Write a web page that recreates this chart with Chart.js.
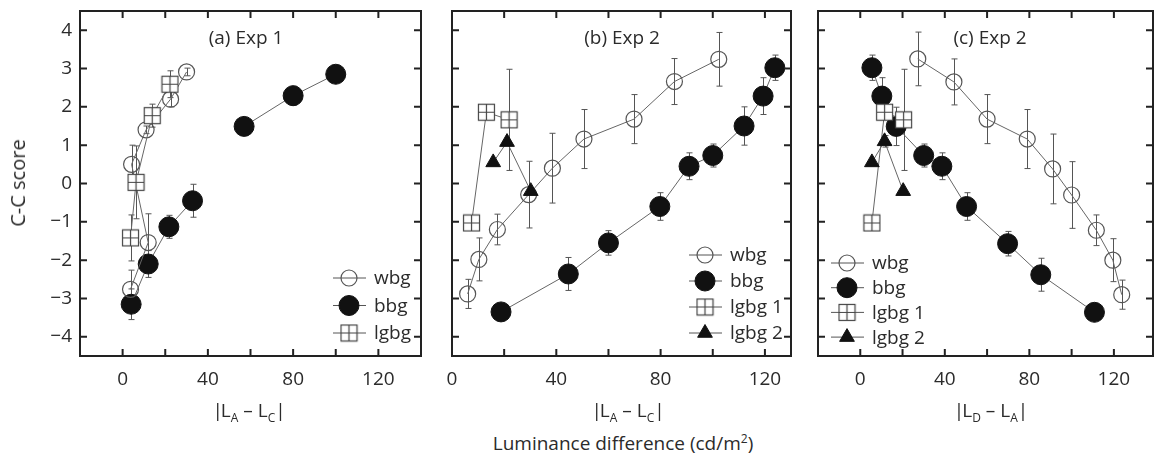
<!DOCTYPE html>
<html>
<head>
<meta charset="utf-8">
<script src="https://cdn.jsdelivr.net/npm/chart.js@4.4.0/dist/chart.umd.min.js"></script>
<style>
  html, body { margin: 0; padding: 0; background: #fff; overflow: hidden; width: 1161px; height: 455px; }
  body { position: relative; font-family: 'Open Sans', sans-serif; color: #2b2b2b; }
  .panel { position: absolute; top: 0; height: 400px; }
  .lbl { position: absolute; white-space: nowrap; transform: translate(-50%, -50%); font-size: 19px; line-height: 1; }
  .lbl sub { font-size: 12px; vertical-align: -5px; line-height: 0; }
  .lbl sup { font-size: 12px; vertical-align: 7px; line-height: 0; }
  .rot { transform: translate(-50%, -50%) rotate(-90deg); font-size: 20px; }
  .bar { letter-spacing: -2px; }
</style>
</head>
<body>
<div class="panel" style="left:0;width:432px"><canvas id="panelA" width="432" height="400"></canvas></div>
<div class="panel" style="left:440px;width:362px"><canvas id="panelB" width="362" height="400"></canvas></div>
<div class="panel" style="left:806px;width:358px"><canvas id="panelC" width="358" height="400"></canvas></div>

<div class="lbl" style="left:246px;top:37px">(a) Exp 1</div>
<div class="lbl" style="left:622px;top:37px">(b) Exp 2</div>
<div class="lbl" style="left:990px;top:37px">(c) Exp 2</div>
<div class="lbl rot" style="left:18px;top:183px">C-C score</div>
<div class="lbl" style="left:248px;top:410px"><span class="bar">|</span>L<sub>A</sub> – L<sub>C</sub><span class="bar">|</span></div>
<div class="lbl" style="left:627px;top:410px"><span class="bar">|</span>L<sub>A</sub> – L<sub>C</sub><span class="bar">|</span></div>
<div class="lbl" style="left:990px;top:410px"><span class="bar">|</span>L<sub>D</sub> – L<sub>A</sub><span class="bar">|</span></div>
<div class="lbl" style="left:623px;top:443px">Luminance difference (cd/m<sup>2</sup>)</div>

<script>
// tick values
const xTicks = [-20, 0, 20, 40, 60, 80, 100, 120, 140];
const xLabelTicks = [0, 40, 80, 120];
const yTicks = [-4, -3, -2, -1, 0, 1, 2, 3, 4];

// (a) Exp 1
const aWbgX = [3.7, 12, 4.2, 11, 22.5, 30];
const aWbgY = [-2.76, -1.54, 0.5, 1.4, 2.2, 2.91];
const aWbgErr = [0.5, 0.75, 0.5, 0.1, 0.2, 0.1];
const aBbgX = [4, 12, 21.7, 32.8, 45, 57, 80, 100];
const aBbgY = [-3.15, -2.1, -1.13, -0.45, null, 1.49, 2.29, 2.85];
const aBbgErr = [0.4, 0.35, 0.3, 0.43, 0, 0, 0.25, 0];
const aLgX = [3.7, 6.3, 13.9, 22.2];
const aLgY = [-1.42, 0.03, 1.77, 2.59];
const aLgErr = [0.6, 0.95, 0.3, 0.35];

// (b) Exp 2
const bWbgX = [6, 10.3, 17.4, 29.4, 38.5, 50.6, 69.8, 85.3, 102.3];
const bWbgY = [-2.88, -1.98, -1.2, -0.29, 0.4, 1.16, 1.68, 2.66, 3.24];
const bWbgErr = [0.38, 0.56, 0.4, 0.87, 0.91, 0.77, 0.64, 0.6, 0.7];
const bBbgX = [18.8, 44.6, 60, 79.7, 90.9, 100, 112, 119.3, 123.8];
const bBbgY = [-3.35, -2.36, -1.55, -0.6, 0.45, 0.73, 1.5, 2.28, 3.02];
const bBbgErr = [0, 0.43, 0.32, 0.36, 0.35, 0.3, 0.5, 0.48, 0.33];
const bLg1X = [7.5, 13.2, 21.9];
const bLg1Y = [-1.03, 1.86, 1.66];
const bLg1Err = [0, 0.1, 1.32];
const bLg2X = [15.8, 21.1, 30.2];
const bLg2Y = [0.55, 1.08, -0.2];
const bLg2Err = [0, 0, 0];

// (c) Exp 2
const cWbgX = [27.2, 44.3, 60, 79, 91, 100, 111.7, 119.5, 123.7];
const cWbgY = [3.25, 2.65, 1.68, 1.16, 0.38, -0.3, -1.22, -2.0, -2.9];
const cWbgErr = [0.7, 0.6, 0.64, 0.77, 0.91, 0.87, 0.4, 0.56, 0.38];
const cBbgX = [5.5, 10.2, 17, 30, 38.6, 50.3, 69.7, 85.4, 110.8];
const cBbgY = [3.02, 2.28, 1.49, 0.73, 0.45, -0.6, -1.57, -2.38, -3.36];
const cBbgErr = [0.33, 0.48, 0.5, 0.3, 0.35, 0.36, 0.32, 0.43, 0];
const cLg1X = [5.5, 11.5, 20.5];
const cLg1Y = [-1.03, 1.86, 1.66];
const cLg1Err = [0, 0.1, 1.32];
const cLg2X = [5.5, 11.5, 20.3];
const cLg2Y = [0.55, 1.1, -0.2];
const cLg2Err = [0, 0.15, 0];

const names = { wbg: 'wbg', bbg: 'bbg', lg: 'lgbg', lg1: 'lgbg 1', lg2: 'lgbg 2' };

// square with a cross inside, used as point style
const sqCanvas = (() => {
    const c = document.createElement('canvas');
    c.width = 19; c.height = 19;
    const g = c.getContext('2d');
    g.fillStyle = '#fff';
    g.fillRect(1.5, 1.5, 16, 16);
    g.strokeStyle = '#444';
    g.lineWidth = 1.2;
    g.strokeRect(1.5, 1.5, 16, 16);
    g.beginPath();
    g.moveTo(9.5, 1.5); g.lineTo(9.5, 17.5);
    g.moveTo(1.5, 9.5); g.lineTo(17.5, 9.5);
    g.stroke();
    return c;
})();

const markerStyles = {
    wbg: { pointStyle: 'circle', radius: 8, fill: 'rgba(255,255,255,0)', stroke: '#555', bw: 1.2, order: 2 },
    bbg: { pointStyle: 'circle', radius: 10, fill: '#111', stroke: '#111', bw: 1, order: 3 },
    lg:  { pointStyle: sqCanvas, radius: 9, fill: '#fff', stroke: '#444', bw: 1, order: 1 },
    lg1: { pointStyle: sqCanvas, radius: 9, fill: '#fff', stroke: '#444', bw: 1, order: 1 },
    lg2: { pointStyle: 'triangle', radius: 8.5, fill: '#111', stroke: '#111', bw: 1, order: 0 }
};

function series(key, xs, ys, errs) {
    const st = markerStyles[key];
    return {
        label: names[key],
        key: key,
        data: xs.map((x, i) => ({ x: x, y: ys[i] })),
        errors: errs,
        showLine: true,
        spanGaps: false,
        borderColor: '#666',
        borderWidth: 1,
        order: st.order,
        pointStyle: st.pointStyle,
        pointRadius: st.radius,
        pointHoverRadius: st.radius,
        pointBackgroundColor: st.fill,
        pointBorderColor: st.stroke,
        pointBorderWidth: st.bw
    };
}

// Error bars, drawn under the markers
const errorBars = {
    id: 'errorBars',
    beforeDatasetsDraw(chart) {
        const ctx = chart.ctx, xs = chart.scales.x, ys = chart.scales.y;
        ctx.save();
        ctx.strokeStyle = '#555';
        ctx.lineWidth = 1;
        chart.data.datasets.forEach(ds => {
            (ds.errors || []).forEach((e, i) => {
                const p = ds.data[i];
                if (!e || p.y === null) return;
                const px = Math.round(xs.getPixelForValue(p.x)) + 0.5;
                const y1 = ys.getPixelForValue(p.y + e);
                const y2 = ys.getPixelForValue(p.y - e);
                ctx.beginPath();
                ctx.moveTo(px, y1); ctx.lineTo(px, y2);
                ctx.moveTo(px - 3, y1); ctx.lineTo(px + 3, y1);
                ctx.moveTo(px - 3, y2); ctx.lineTo(px + 3, y2);
                ctx.stroke();
            });
        });
        ctx.restore();
    }
};

// Box round the plot with inward ticks on all four sides
const frame = {
    id: 'frame',
    afterDraw(chart) {
        const ctx = chart.ctx, a = chart.chartArea, x = chart.scales.x, y = chart.scales.y;
        ctx.save();
        ctx.strokeStyle = '#222';
        ctx.lineWidth = 2;
        ctx.strokeRect(a.left, a.top, a.right - a.left, a.bottom - a.top);
        ctx.beginPath();
        xTicks.forEach(v => {
            const px = x.getPixelForValue(v);
            if (px <= a.left + 2 || px >= a.right - 2) return;
            ctx.moveTo(px, a.bottom); ctx.lineTo(px, a.bottom - 7);
            ctx.moveTo(px, a.top); ctx.lineTo(px, a.top + 7);
        });
        yTicks.forEach(v => {
            const py = y.getPixelForValue(v);
            ctx.moveTo(a.left, py); ctx.lineTo(a.left + 7, py);
            ctx.moveTo(a.right, py); ctx.lineTo(a.right - 7, py);
        });
        ctx.stroke();
        ctx.restore();
    }
};

function drawMarker(ctx, key, x, y) {
    const st = markerStyles[key];
    if (st.pointStyle === sqCanvas) {
        ctx.drawImage(sqCanvas, x - 9.5, y - 9.5);
        return;
    }
    ctx.beginPath();
    if (st.pointStyle === 'triangle') {
        const r = st.radius;
        for (let k = 0; k < 3; k++) {
            const ang = k * 2 * Math.PI / 3;
            const px = x + Math.sin(ang) * r, py = y - Math.cos(ang) * r;
            if (k === 0) ctx.moveTo(px, py); else ctx.lineTo(px, py);
        }
        ctx.closePath();
    } else {
        ctx.arc(x, y, st.radius, 0, Math.PI * 2);
    }
    ctx.fillStyle = st.fill;
    ctx.fill();
    ctx.lineWidth = st.bw;
    ctx.strokeStyle = st.stroke;
    ctx.stroke();
}

// Legend inside the plot area (one plugin per panel)
function panelLegend(lx, ly, dy) {
    return {
        id: 'panelLegend',
        afterDraw(chart) {
            const ctx = chart.ctx, a = chart.chartArea;
            ctx.save();
            ctx.font = '19px "Open Sans"';
            ctx.textBaseline = 'middle';
            chart.data.datasets.forEach((ds, i) => {
                const x0 = a.left + lx, y0 = a.bottom + ly + i * dy;
                ctx.strokeStyle = '#555';
                ctx.lineWidth = 1;
                ctx.beginPath();
                ctx.moveTo(x0, y0); ctx.lineTo(x0 + 33, y0);
                ctx.stroke();
                drawMarker(ctx, ds.key, x0 + 16, y0);
                ctx.fillStyle = '#2b2b2b';
                ctx.fillText(ds.label, x0 + 41, y0 + 1);
            });
            ctx.restore();
        }
    };
}

// labels may hang over the plot edges without shrinking it
function noPad(s) {
    s.paddingTop = 0; s.paddingBottom = 0;
    s.paddingLeft = 0; s.paddingRight = 0;
}

function makePanel(id, datasets, xMin, xMax, pad, showY, legend) {
    return new Chart(document.getElementById(id), {
        type: 'scatter',
        data: { datasets: datasets },
        options: {
            responsive: false,
            animation: false,
            devicePixelRatio: 1,
            layout: { padding: { top: 10, bottom: 0, left: pad.left, right: pad.right } },
            scales: {
                x: {
                    type: 'linear', min: xMin, max: xMax,
                    grid: { display: false, drawTicks: false, tickLength: 0 },
                    border: { display: false },
                    afterBuildTicks: s => { s.ticks = xLabelTicks.map(v => ({ value: v })); },
                    ticks: {
                        autoSkip: false, maxRotation: 0, padding: 12,
                        color: '#2b2b2b', font: { family: 'Open Sans', size: 19 },
                        callback: v => String(v)
                    },
                    afterFit: s => { s.height = 44; noPad(s); }
                },
                y: {
                    type: 'linear', min: -4.5, max: 4.5, display: showY,
                    grid: { display: false, drawTicks: false, tickLength: 0 },
                    border: { display: false },
                    afterBuildTicks: s => { s.ticks = yTicks.map(v => ({ value: v })); },
                    ticks: {
                        autoSkip: false, padding: 8,
                        color: '#2b2b2b', font: { family: 'Open Sans', size: 19 },
                        callback: v => (v < 0 ? '\u2212' + (-v) : String(v))
                    },
                    afterFit: s => { s.width = showY ? 80 : 0; noPad(s); }
                }
            },
            plugins: {
                legend: { display: false },
                tooltip: { enabled: false }
            }
        },
        plugins: [errorBars, frame, panelLegend(legend[0], legend[1], legend[2])]
    });
}

makePanel('panelA', [
    series('wbg', aWbgX, aWbgY, aWbgErr),
    series('bbg', aBbgX, aBbgY, aBbgErr),
    series('lg', aLgX, aLgY, aLgErr)
], -20, 140, { left: 0, right: 5 }, true, [253, -78, 27.5]);

makePanel('panelB', [
    series('wbg', bWbgX, bWbgY, bWbgErr),
    series('bbg', bBbgX, bBbgY, bBbgErr),
    series('lg1', bLg1X, bLg1Y, bLg1Err),
    series('lg2', bLg2X, bLg2Y, bLg2Err)
], 0, 130, { left: 12, right: 5 }, false, [237, -101, 26]);

makePanel('panelC', [
    series('wbg', cWbgX, cWbgY, cWbgErr),
    series('bbg', cBbgX, cBbgY, cBbgErr),
    series('lg1', cLg1X, cLg1Y, cLg1Err),
    series('lg2', cLg2X, cLg2Y, cLg2Err)
], -20, 138.5, { left: 12, right: 2 }, false, [13, -93, 24.7]);
</script>
</body>
</html>
